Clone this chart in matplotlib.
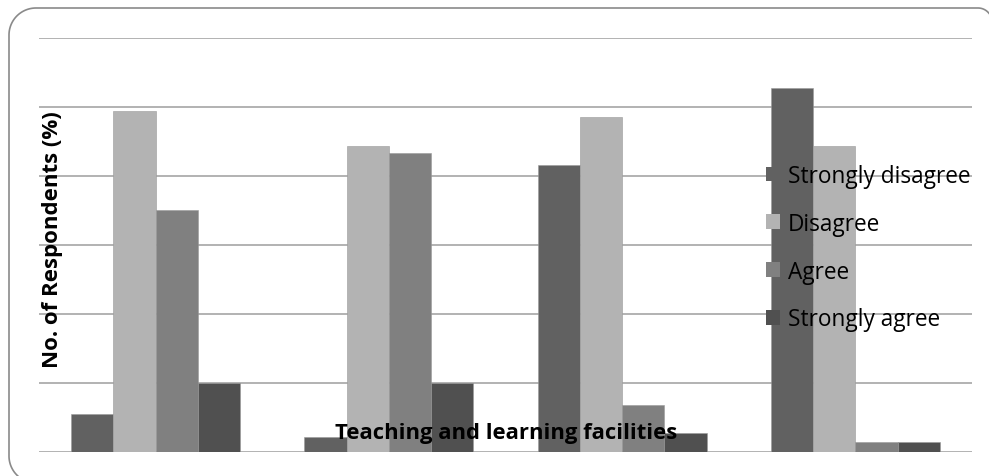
import matplotlib
matplotlib.use("Agg")
import matplotlib.pyplot as plt
from matplotlib.patches import Patch
from matplotlib.lines import Line2D
from matplotlib.transforms import IdentityTransform
import numpy as np

plt.rcParams['font.family'] = ['Open Sans', 'DejaVu Sans']

# Four response categories for each of four items
groups = ["Item 1", "Item 2", "Item 3", "Item 4"]
series = ["Strongly disagree", "Disagree", "Agree", "Strongly agree"]
strongly_disagree = [5.5, 2.2, 41.6, 52.8]
disagree = [49.4, 44.3, 48.6, 44.3]
agree = [35.1, 43.3, 6.8, 1.4]
strongly_agree = [10.0, 10.0, 2.8, 1.4]
values = [strongly_disagree, disagree, agree, strongly_agree]
colors = ["#616161", "#b3b3b3", "#808080", "#505050"]

W, H = 989, 477
fig = plt.figure(figsize=(W / 100, H / 100), dpi=100)
ax = fig.add_axes([39 / W, (H - 453) / H, 933 / W, (453 - 39) / H])

x = np.arange(len(groups))
bw = 0.181
for i, (vals, c) in enumerate(zip(values, colors)):
    ax.bar(x + (i - 1.5) * bw, vals, width=bw, color=c, edgecolor="#9a9a9a",
           linewidth=0.4, label=series[i], zorder=2)

ax.set_xlim(-0.5, 3.5)
ax.set_ylim(0, 60)
ax.set_yticks(np.arange(0, 61, 10))
ax.grid(axis="y", color="#a6a6a6", linewidth=1.2, zorder=0)
ax.tick_params(left=False, bottom=False, labelleft=False, labelbottom=False)
for s in ax.spines.values():
    s.set_visible(False)

ax.set_ylabel("No. of Respondents (%)", fontsize=16, fontweight="bold")
ax.yaxis.set_label_coords(24 / 933, (453 - 240) / 414)

ax.text((506 - 39) / 933, (453 - 434) / 414, "Teaching and learning facilities",
        transform=ax.transAxes, ha="center", va="center", fontsize=15.8,
        fontweight="bold", zorder=3)

handles = [Patch(facecolor=c, edgecolor="none") for c in colors]
leg = ax.legend(handles, series, loc="upper left",
                bbox_to_anchor=(766 / W, (H - 165) / H),
                bbox_transform=fig.transFigure, frameon=False,
                fontsize=16.3, handlelength=0.62, handleheight=0.62,
                handletextpad=0.35, labelspacing=1.05, borderpad=0,
                borderaxespad=0)

# Rounded outline of the chart area (only the part inside the canvas),
# built in pixel coordinates measured from the top-left corner:
# bottom-left arc, left edge, top-left arc, top edge, top-right arc
r = 27
phi = np.linspace(np.arcsin(20 / r), 0, 20)
bl_x, bl_y = 36 - r * np.cos(phi), 457 + r * np.sin(phi)
th = np.linspace(0, np.pi / 2, 30)
tl_x, tl_y = 36 - r * np.cos(th), 36 - r * np.sin(th)
r2 = 14
psi = np.linspace(0, np.arcsin(11 / r2), 15)
tr_x, tr_y = 978 + r2 * np.sin(psi), 23 - r2 * np.cos(psi)
px = np.concatenate([bl_x, [9, 9], tl_x, [978], tr_x])
py = np.concatenate([bl_y, [457, 36], tl_y, [9], tr_y])
outline = Line2D(px, H - py, transform=IdentityTransform(), color="#8a8a8a",
                 linewidth=1.2, solid_joinstyle="round", zorder=5)
fig.lines.append(outline)

fig.savefig("out.png", dpi=100)
